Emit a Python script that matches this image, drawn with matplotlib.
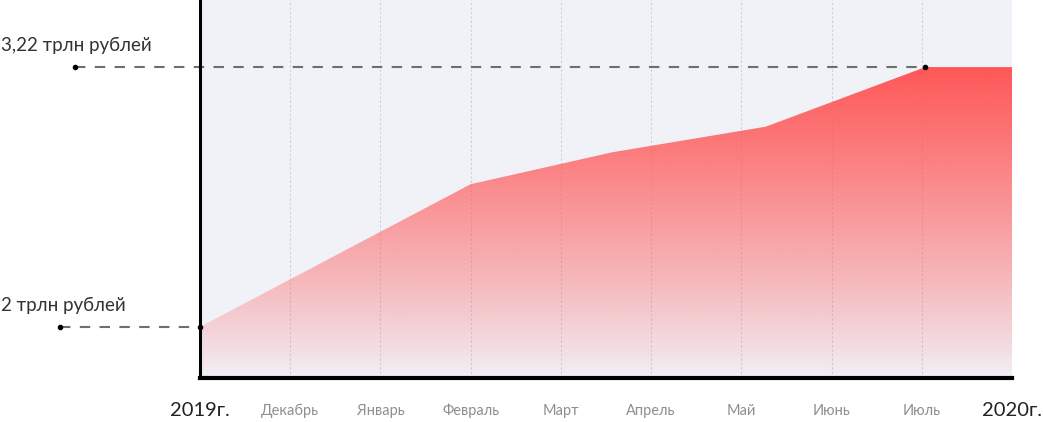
import numpy as np
import matplotlib
matplotlib.use("Agg")
import matplotlib.pyplot as plt
from matplotlib.colors import to_rgb

plt.rcParams['font.family'] = ['Lato', 'DejaVu Sans']

# ---- data ----
month_labels = ["Декабрь", "Январь", "Февраль", "Март", "Апрель", "Май", "Июнь", "Июль"]
year_labels = ["2019г.", "2020г."]
x_points = [0, 3, 4.57, 6.27, 8.04, 9]
y_points = [2.0, 2.67, 2.82, 2.94, 3.22, 3.22]
ref_values = [2.0, 3.22]
ref_labels = ["2 трлн рублей", "3,22 трлн рублей"]
ref_x_start = [-1.55, -1.39]
ref_x_end = [0, 8.04]

Y_MIN, Y_MAX = 1.76, 3.535

fig = plt.figure(figsize=(10.43, 4.22), dpi=100)
ax = fig.add_axes([200/1043, 44/422, 812/1043, 378/422])
ax.set_xlim(0, 9)
ax.set_ylim(Y_MIN, Y_MAX)
ax.set_facecolor("#f1f2f8")

# vertical grid
for i in range(1, 9):
    ax.axvline(i, color="#cdd0d8", lw=0.8, ls=(0, (2, 2)), zorder=1)

# gradient fill
poly = ax.fill_between(x_points, y_points, Y_MIN, color="none", zorder=2)
top = max(y_points)
n = 400
ys = np.linspace(Y_MIN, top, n)
alpha = (ys - Y_MIN) / (top - Y_MIN)
alpha = alpha ** 0.85
rgb = to_rgb("#ff5757")
img = np.zeros((n, 2, 4))
img[..., 0] = rgb[0]
img[..., 1] = rgb[1]
img[..., 2] = rgb[2]
img[..., 3] = alpha[:, None]
im = ax.imshow(img, extent=[0, 9, Y_MIN, top], origin="lower", aspect="auto", zorder=2)
path = poly.get_paths()[0]
im.set_clip_path(path, transform=ax.transData)
ax.set_xlim(0, 9)
ax.set_ylim(Y_MIN, Y_MAX)

# reference dashed lines
for v, xs, xe, lab in zip(ref_values, ref_x_start, ref_x_end, ref_labels):
    ax.plot([xs, xe], [v, v], color="#6e6e6e", lw=1.5, ls=(0, (5, 4.5)), clip_on=False, zorder=5)
    ax.plot([xs, xe], [v, v], "o", color="black", ms=3, clip_on=False, zorder=6)
    ax.text(-2.205, v + 0.1, lab, fontsize=13.5, color="#333333", ha="left", va="center")

# spines
for s in ["top", "right"]:
    ax.spines[s].set_visible(False)
ax.spines["left"].set_linewidth(2.2)
ax.spines["bottom"].set_linewidth(3)
ax.spines["left"].set_zorder(7)
ax.spines["bottom"].set_zorder(7)

ax.set_xticks([])
ax.set_yticks([])

# labels
for i, lab in enumerate(month_labels):
    ax.text(i + 1, Y_MIN - 0.153, lab, fontsize=10.5, color="#8f8f8f", ha="center", va="center")
ax.text(0, Y_MIN - 0.153, year_labels[0], fontsize=14.5, color="#222222", ha="center", va="center")
ax.text(9, Y_MIN - 0.153, year_labels[1], fontsize=14.5, color="#222222", ha="center", va="center")

fig.savefig("out.png", dpi=100)
